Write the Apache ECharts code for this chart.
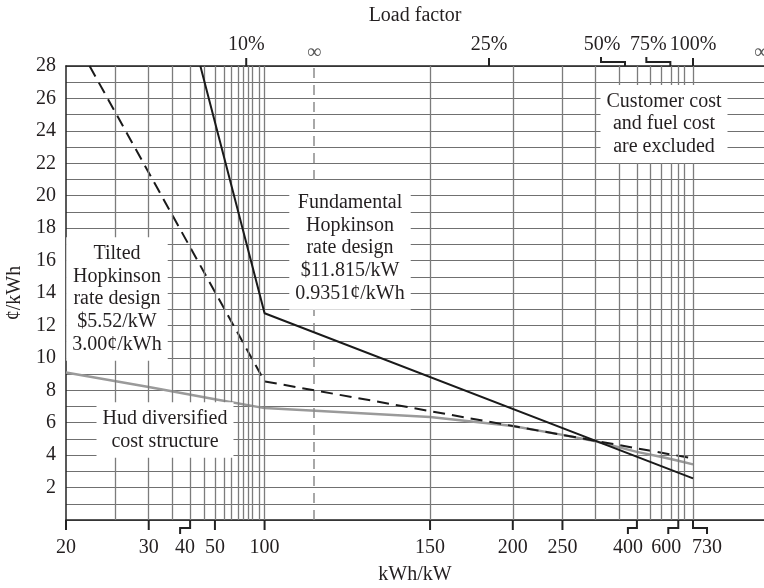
<!DOCTYPE html>
<html><head><meta charset="utf-8">
<script src="https://cdn.jsdelivr.net/npm/echarts@6/dist/echarts.min.js"></script>
<style>html,body{margin:0;padding:0;background:#fff}#c{width:764px;height:588px}</style>
</head><body><div id="c"></div>
<script>
// ---------- data ----------
const xTickValues = [20, 30, 40, 50, 100, 150, 200, 250, 400, 600, 730];          // kWh/kW
const xGridValues = [25, 30, 35, 40, 45, 50, 55, 60, 65, 70, 75, 80, 90, 100,
                     150, 200, 250, 300, 350, 400, 450, 500, 550, 600, 650, 730];
const loadFactorLabels = ['10%', '25%', '50%', '75%', '100%'];
const loadFactorValues = [73, 182.5, 365, 547.5, 730];                              // kWh/kW at that load factor
const yMin = 0, yMax = 28;

const fundamentalX = [43.6, 100, 730];
const fundamentalY = [28, 12.75, 2.57];
const tiltedX = [22.1, 100, 730];
const tiltedY = [28, 8.55, 3.8];
const hudX = [20, 30, 50, 100, 150, 200, 250, 300, 400, 500, 600, 730];
const hudY = [9.1, 8.2, 7.45, 6.9, 6.35, 5.8, 5.25, 4.86, 4.2, 3.88, 3.65, 3.43];

const annTilted = ['Tilted', 'Hopkinson', 'rate design', '$5.52/kW', '3.00¢/kWh'];
const annFund = ['Fundamental', 'Hopkinson', 'rate design', '$11.815/kW', '0.9351¢/kWh'];
const annCust = ['Customer cost', 'and fuel cost', 'are excluded'];
const annHud = ['Hud diversified', 'cost structure'];

// ---------- scale: reciprocal (1/x) axis, 20–100 compressed, 100–730 stretched ten-fold ----------
// axis units are thousandths of 1/(kWh/kW)
function txLeft(v) { return (0.05 - 1 / v) * 1000; }
function tx(v) { const u = 1 / v; return (u >= 0.01 ? 0.05 - u : 0.04 + (0.01 - u) * 10) * 1000; }
const zip = (xs, ys) => xs.map((x, i) => [tx(x), ys[i]]);
const X_MAX = 140.6;

const FS = 20;
const FONT = FS + 'px "Liberation Serif", "Times New Roman", serif';
const INK = '#231f20';

const bottomBracket = { 40: { end: -10, lab: -5 }, 400: { end: -9, lab: -9 }, 600: { end: -10, lab: -12 }, 730: { end: 14, lab: 14 } };
const topBracket = { '50%': { end: -24, lab: -23 }, '75%': { end: -24, lab: -22 } };

const chart = echarts.init(document.getElementById('c'), null, { renderer: 'canvas' });
chart.setOption({
  animation: false,
  backgroundColor: '#fff',
  grid: { left: 66, right: 0, top: 66, bottom: 68, containLabel: false, outerBoundsMode: 'none' },
  xAxis: [
    { type: 'value', position: 'bottom', min: 0, max: X_MAX,
      name: 'kWh/kW', nameLocation: 'middle', nameGap: 45,
      nameTextStyle: { fontFamily: 'Liberation Serif', fontSize: FS, color: INK },
      axisLine: { show: true, onZero: false, lineStyle: { color: '#222', width: 1.5 } },
      axisTick: { show: false }, axisLabel: { show: false }, splitLine: { show: false } },
    { type: 'value', position: 'top', min: 0, max: X_MAX,
      name: 'Load factor', nameLocation: 'middle', nameGap: 40,
      nameTextStyle: { fontFamily: 'Liberation Serif', fontSize: FS, color: INK },
      axisLine: { show: true, onZero: false, lineStyle: { color: '#222', width: 1.5 } },
      axisTick: { show: false }, axisLabel: { show: false }, splitLine: { show: false } }
  ],
  yAxis: {
    type: 'value', min: yMin, max: yMax, interval: 1,
    name: '¢/kWh', nameLocation: 'middle', nameGap: 28, nameRotate: 90,
    nameTextStyle: { fontFamily: 'Liberation Serif', fontSize: FS, color: INK },
    axisLine: { show: true, lineStyle: { color: '#222', width: 1.5 } },
    axisTick: { show: false },
    axisLabel: { margin: 10, fontFamily: 'Liberation Serif', fontSize: FS, color: INK,
      formatter: v => (v > 0 && v % 2 === 0) ? String(v) : '' },
    splitLine: { show: true, lineStyle: { color: '#707070', width: 1 } }
  },
  series: [
    { type: 'line', data: [], z: 1, silent: true,
      markLine: { silent: true, precision: 6, symbol: ['none', 'none'], label: { show: false }, animation: false,
        lineStyle: { color: '#7c7c7c', width: 1.3, type: 'solid' },
        data: xGridValues.map(v => ({ xAxis: tx(v) })).concat([
          { xAxis: txLeft(Infinity), lineStyle: { color: '#8c8c8c', width: 1.5, type: [10, 7] } }
        ]) } },
    { name: 'Hud', type: 'line', z: 3, data: zip(hudX, hudY), symbol: 'none',
      lineStyle: { color: '#9a9a9a', width: 2.5 } },
    { name: 'Tilted', type: 'line', z: 4, data: zip(tiltedX, tiltedY), symbol: 'none',
      lineStyle: { color: '#1a1a1a', width: 2, type: [12, 7] } },
    { name: 'Fundamental', type: 'line', z: 5, data: zip(fundamentalX, fundamentalY), symbol: 'none',
      lineStyle: { color: '#1a1a1a', width: 2 } },
    // bottom ticks & labels
    { type: 'custom', z: 10, clip: false, silent: true,
      data: xTickValues.map((v, i) => [tx(v), yMin, i]),
      encode: { x: 0, y: 1 },
      renderItem: (params, api) => {
        const v = xTickValues[api.value(2)];
        const p = api.coord([api.value(0), api.value(1)]);
        const b = bottomBracket[v];
        const pts = b ? [[p[0], p[1]], [p[0], p[1] + 8], [p[0] + b.end, p[1] + 8], [p[0] + b.end, p[1] + 14]]
                      : [[p[0], p[1]], [p[0], p[1] + 10]];
        return { type: 'group', children: [
          { type: 'polyline', shape: { points: pts }, style: { stroke: '#222', lineWidth: 2, fill: null } },
          { type: 'text', style: { text: String(v), x: p[0] + (b ? b.lab : 0), y: p[1] + 28,
            align: 'center', verticalAlign: 'middle', font: FONT, fill: INK } }
        ] };
      } },
    // top ticks (load factor)
    { type: 'custom', z: 10, clip: false, silent: true, xAxisIndex: 1,
      data: loadFactorValues.map((v, i) => [tx(v), yMax, i]),
      encode: { x: 0, y: 1 },
      renderItem: (params, api) => {
        const lab = loadFactorLabels[api.value(2)];
        const p = api.coord([api.value(0), api.value(1)]);
        const b = topBracket[lab];
        const pts = b ? [[p[0], p[1]], [p[0], p[1] - 4], [p[0] + b.end, p[1] - 4], [p[0] + b.end, p[1] - 9]]
                      : [[p[0], p[1]], [p[0], p[1] - 8]];
        return { type: 'group', children: [
          { type: 'polyline', shape: { points: pts }, style: { stroke: '#222', lineWidth: 2, fill: null } },
          { type: 'text', style: { text: lab, x: p[0] + (b ? b.lab : 0), y: p[1] - 21,
            align: 'center', verticalAlign: 'middle', font: FONT, fill: INK } }
        ] };
      } },
    // infinity markers
    { type: 'custom', z: 10, clip: false, silent: true, xAxisIndex: 1,
      data: [[txLeft(Infinity), yMax], [tx(Infinity), yMax]],
      encode: { x: 0, y: 1 },
      renderItem: (params, api) => {
        const p = api.coord([api.value(0), api.value(1)]);
        return { type: 'text', style: { text: '∞', x: p[0], y: p[1] - 13, align: 'center',
          verticalAlign: 'middle', font: FONT, fill: '#555' } };
      } }
  ],
  graphic: [
    { lines: annTilted, x: 117, y: 299 },
    { lines: annFund, x: 350, y: 248 },
    { lines: annCust, x: 664, y: 124 },
    { lines: annHud, x: 165, y: 430 }
  ].map(a => ({
    type: 'text', x: a.x, y: a.y, z: 100, silent: true,
    style: { text: a.lines.join('\n'), align: 'center', verticalAlign: 'middle', font: FONT,
      lineHeight: 22.7, fill: INK, backgroundColor: '#fff', padding: [5, 6] }
  }))
});
</script>
</body></html>
